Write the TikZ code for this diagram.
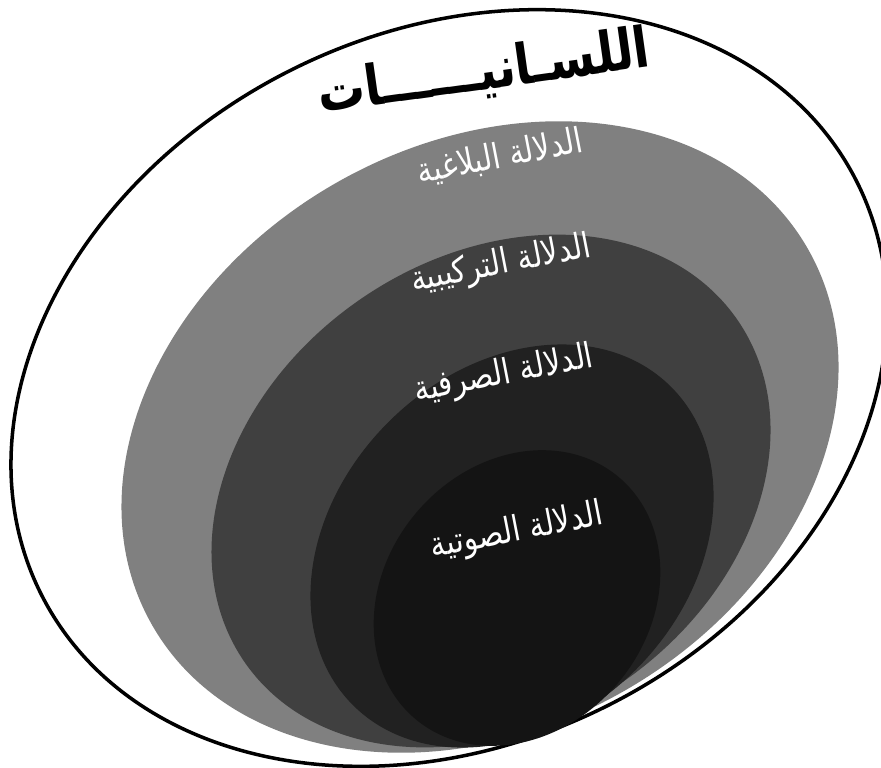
\documentclass[tikz,border=0pt]{standalone}
\usepackage{fontspec}
\usepackage{tikz}
\usetikzlibrary{positioning}
\newfontfamily\arabicfont[Script=Arabic, FakeStretch=0.84]{DejaVu Sans}
\TeXXeTstate=1

\begin{document}
\begin{tikzpicture}[x=0.1mm, y=0.1mm,
    layer/.style={fill=#1, draw=none},
    lbl/.style={text=white, inner sep=0pt, rotate=11, font=\arabicfont\fontsize{10}{12}\selectfont}]
   \useasboundingbox (0,0) rectangle (881,767);

   % 外层椭圆
   \draw[line width=1pt, fill=white, rotate around={27:(449,379)}] (449,379) ellipse [x radius=457, y radius=355];

   % 内层椭圆
   \fill[layer=black!50, rotate around={30:(480,330)}] (480,330) ellipse [x radius=378, y radius=292];
   \fill[layer=black!75, rotate around={35:(491,276)}] (491,276) ellipse [x radius=300, y radius=232];
   \fill[layer=black!87, rotate around={45:(512,221)}] (512,221) ellipse [x radius=225, y radius=175];
   \fill[layer=black!92, rotate around={50:(517,169)}] (517,169) ellipse [x radius=158, y radius=132];

   % 标题
   \node[inner sep=0pt, rotate=8, font=\arabicfont\bfseries\fontsize{16}{18}\selectfont] (t_0) at (484,694) {\beginR اللسـانيــــــات\endR};

   % 各层文字
   \node[lbl] (l_0) at (500,610) {\beginR الدلالة البلاغية\endR};
   \node[lbl] (l_1) at (501,502) {\beginR الدلالة التركيبية\endR};
   \node[lbl] (l_2) at (504,392) {\beginR الدلالة الصرفية\endR};
   \node[lbl] (l_3) at (517,235) {\beginR الدلالة الصوتية\endR};
\end{tikzpicture}
\end{document}
